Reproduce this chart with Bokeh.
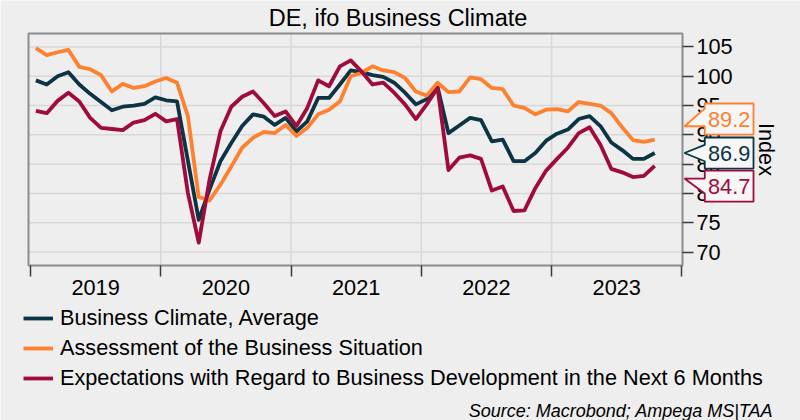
from bokeh.plotting import figure
from bokeh.models import FixedTicker, Range1d, Legend, LegendItem, Label, PolyAnnotation
from bokeh.embed import file_html
from bokeh.resources import INLINE

# ---------------- data ----------------
start_year = 2019
years = [2019, 2020, 2021, 2022, 2023]
year_edges = [2019, 2020, 2021, 2022, 2023, 2024]
y_ticks = [70, 75, 80, 85, 90, 95, 100, 105]

series_names = [
    "Business Climate, Average",
    "Assessment of the Business Situation",
    "Expectations with Regard to Business Development in the Next 6 Months",
]

# monthly values, Jan 2019 .. Oct 2023
climate = [
    99.3, 98.6, 100.0, 100.7, 98.6, 97.0, 95.6, 94.2, 94.8, 95.0, 95.3, 96.4,
    95.9, 95.7, 85.6, 75.5, 80.7, 85.5, 88.6, 91.5, 93.5, 93.1, 91.7, 92.9,
    90.6, 92.3, 96.3, 96.3, 98.6, 101.0, 100.7, 100.2, 99.9, 98.9, 97.2, 95.2,
    96.1, 98.2, 90.3, 91.6, 92.9, 92.5, 88.9, 89.2, 85.5, 85.5, 86.9, 89.0,
    90.2, 90.9, 92.7, 93.2, 91.5, 88.7, 87.4, 85.9, 85.9, 86.9,
]
assessment = [
    104.8, 103.6, 104.1, 104.5, 101.6, 101.2, 100.2, 97.4, 98.7, 98.0, 98.3, 99.1,
    99.7, 98.9, 93.2, 79.4, 78.8, 81.5, 84.6, 87.8, 89.5, 90.5, 90.3, 91.7,
    89.8, 91.2, 93.5, 94.3, 95.7, 100.0, 100.6, 101.7, 101.0, 100.7, 99.7, 97.4,
    96.7, 98.9, 97.3, 97.4, 99.8, 99.5, 98.0, 97.8, 95.0, 94.6, 93.5, 94.3,
    94.4, 94.0, 95.6, 95.3, 95.0, 93.7, 91.3, 89.1, 88.8, 89.2,
]
expectations = [
    94.1, 93.7, 95.8, 97.2, 95.7, 92.9, 91.2, 91.0, 90.8, 92.1, 92.5, 93.6,
    92.3, 92.7, 80.1, 71.6, 82.4, 90.6, 94.8, 96.5, 97.4, 95.4, 93.2, 94.0,
    91.5, 94.6, 99.3, 98.3, 101.7, 102.7, 100.8, 98.6, 98.9, 97.2, 95.2, 92.7,
    95.2, 98.0, 84.0, 86.1, 86.5, 85.9, 80.5, 81.2, 77.0, 77.1, 80.9, 83.9,
    85.9, 87.8, 90.3, 91.3, 88.3, 84.2, 83.6, 82.8, 83.0, 84.7,
]

# ---------------- style / layout ----------------
FONT = "Liberation Sans"
FS = "21.7px"
BG = "#eeeeee"
COLORS = ["#0b3444", "#fd812f", "#a00b3e"]
GRID = "#d8d8d8"
TICK = "#3a3a3a"
OUTLINE = "#8c8c8c"

# chart box (in data units) and the whole canvas extent around it
BOX_X = (2018.985, 2024.005)
BOX_Y = (67.7, 107.3)
CANVAS_X = (2018.7701, 2024.9107)
CANVAS_Y = (41.243, 112.933)

months = len(climate)
x = [start_year + (i + 0.5) / 12 for i in range(months)]

p = figure(
    width=800, height=420,
    x_range=Range1d(*CANVAS_X), y_range=Range1d(*CANVAS_Y),
    y_axis_location="right", title=None,
    output_backend="svg", toolbar_location=None,
    min_border=0, min_border_left=0, min_border_right=0,
    min_border_top=0, min_border_bottom=0,
    background_fill_color=BG, border_fill_color=BG,
    outline_line_color=None,
)
p.grid.visible = False

# grid lines inside the chart box
p.segment(x0=BOX_X[0], x1=BOX_X[1], y0=y_ticks, y1=y_ticks,
          line_color=GRID, line_width=1.5)
p.segment(x0=year_edges[1:-1], x1=year_edges[1:-1], y0=BOX_Y[0], y1=BOX_Y[1],
          line_color=GRID, line_width=1.5)
# chart box outline
p.quad(left=BOX_X[0], right=BOX_X[1], bottom=BOX_Y[0], top=BOX_Y[1],
       fill_color=None, line_color=OUTLINE, line_width=2)

# x axis: labels mid-year, tick marks at year boundaries
xa = p.xaxis[0]
xa.fixed_location = BOX_Y[0]
xa.bounds = BOX_X
xa.ticker = FixedTicker(ticks=[y + 0.5 for y in years], minor_ticks=year_edges)
xa.major_label_overrides = {y + 0.5: str(y) for y in years}
xa.major_tick_out = 0
xa.major_tick_in = 0
xa.minor_tick_out = 11
xa.minor_tick_in = 0
xa.minor_tick_line_color = TICK
xa.minor_tick_line_width = 1.5
xa.axis_line_color = None
xa.major_label_standoff = 3
xa.major_label_text_font = FONT
xa.major_label_text_font_size = FS
xa.major_label_text_color = "black"

ya = p.yaxis[0]
ya.fixed_location = BOX_X[1]
ya.bounds = BOX_Y
ya.ticker = FixedTicker(ticks=y_ticks)
ya.major_tick_out = 11
ya.major_tick_in = 0
ya.major_tick_line_color = TICK
ya.major_tick_line_width = 1.5
ya.minor_tick_line_color = None
ya.axis_line_color = None
ya.major_label_standoff = 3
ya.major_label_text_font = FONT
ya.major_label_text_font_size = FS
ya.major_label_text_color = "black"
ya.axis_label = "Index"
ya.axis_label_text_font = FONT
ya.axis_label_text_font_size = FS
ya.axis_label_text_font_style = "normal"
ya.axis_label_text_color = "black"
ya.axis_label_standoff = 18

all_series = [climate, assessment, expectations]
renderers = []
for vals, col in zip(all_series, COLORS):
    r = p.line(x, vals, line_color=col, line_width=3.8, line_join="round")
    renderers.append(r)

legend = Legend(
    items=[LegendItem(label=n, renderers=[r]) for n, r in zip(series_names, renderers)],
    location=(23, 29), orientation="vertical",
    label_text_font=FONT, label_text_font_size=FS, label_text_color="black",
    glyph_width=30, glyph_height=20, label_standoff=7, spacing=4,
    padding=0, margin=0, border_line_color=None, background_fill_alpha=0,
)
p.add_layout(legend, "center")

# value callouts (last observation of each series)
x_tip, x_left, x_right = 2024.02, 2024.176, 2024.55
half_h = 2.65
# (box centre offset, tip offset, pointer base high offset, pointer base low offset)
callout_shapes = [(0.0, 0.0, 1.4, -1.4), (3.5, 2.27, 5.29, 2.27), (-3.45, -2.16, -2.16, -4.72)]
for vals, col, (bo, to, bh, bl) in zip(all_series, COLORS, callout_shapes):
    v = vals[-1]
    top, bot = v + bo + half_h, v + bo - half_h
    xs = [x_left, x_right, x_right, x_left, x_left, x_tip, x_left]
    ys = [top, top, bot, bot, v + bl, v + to, v + bh]
    p.add_layout(PolyAnnotation(xs=xs, ys=ys, fill_color="#f6f6f6", fill_alpha=1,
                                line_color=col, line_alpha=1, line_width=1.8,
                                level="overlay"))
    p.add_layout(Label(x=(x_left + x_right) / 2, y=v + bo, text=f"{v:.1f}",
                       text_align="center", text_baseline="middle", text_color=col,
                       text_font=FONT, text_font_size=FS, level="overlay"))

p.add_layout(Label(x=397.5, y=402.5, x_units="screen", y_units="screen",
                   text="DE, ifo Business Climate", text_align="center",
                   text_baseline="middle", text_font=FONT, text_font_size="23.5px",
                   text_color="black"))
p.add_layout(Label(x=772.7, y=10, x_units="screen", y_units="screen",
                   text="Source: Macrobond; Ampega MS|TAA", text_align="right",
                   text_baseline="middle", text_font=FONT, text_font_size="18px",
                   text_font_style="italic", text_color="black"))

open("out.html", "w").write(file_html(p, INLINE))
